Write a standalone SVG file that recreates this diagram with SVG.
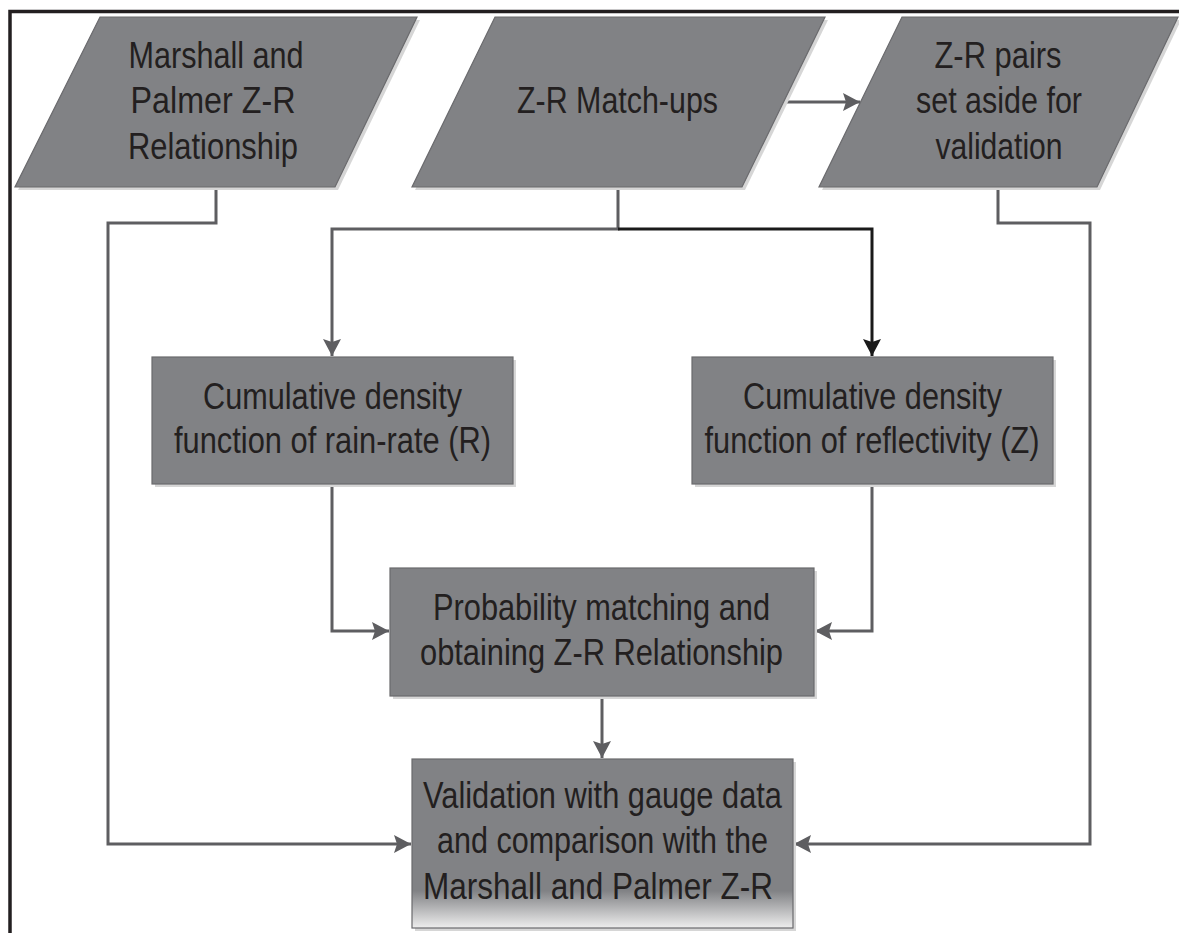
<svg xmlns="http://www.w3.org/2000/svg" width="1179" height="933" viewBox="0 0 1179 933">
<style>
.shape{fill:#818285;stroke:#6a6a6d;stroke-width:1.2}
.shadow{fill:#d6d6d6}
.t{font-family:"Liberation Sans",Arial,sans-serif;font-size:37px;fill:#231f20;text-anchor:middle}
.c{fill:none;stroke:#5e5e61;stroke-width:3}
.cb{fill:none;stroke:#1a1a1a;stroke-width:3}
</style>
<defs>
<marker id="ag" markerUnits="userSpaceOnUse" markerWidth="18" markerHeight="18" refX="17" refY="9" orient="auto">
<path d="M0,0 L17,9 L0,18 L3,9 z" fill="#5e5e61"/>
</marker>
<marker id="ab" markerUnits="userSpaceOnUse" markerWidth="18" markerHeight="18" refX="17" refY="9" orient="auto">
<path d="M0,0 L17,9 L0,18 L3,9 z" fill="#1a1a1a"/>
</marker>
<linearGradient id="vg" x1="0" y1="0" x2="0" y2="1">
<stop offset="0" stop-color="#818285"/>
<stop offset="0.78" stop-color="#818285"/>
<stop offset="1" stop-color="#eeeeee"/>
</linearGradient>
</defs>
<rect width="1179" height="933" fill="#ffffff"/>
<path d="M10,933 V11.5 H1179" fill="none" stroke="#231f20" stroke-width="3.5"/>

<g id="connectors">
<path class="c" d="M216,187 V223 H108 V844 H411" marker-end="url(#ag)"/>
<path class="c" d="M998,187 V223 H1090 V844 H794" marker-end="url(#ag)"/>
<path class="c" d="M618,187 V229 H332 V356" marker-end="url(#ag)"/>
<path class="cb" d="M618,229 H872 V356" marker-end="url(#ab)"/>
<path class="c" d="M782,102 H860" marker-end="url(#ag)"/>
<path class="c" d="M332,484 V631 H389" marker-end="url(#ag)"/>
<path class="c" d="M872,484 V631 H815" marker-end="url(#ag)"/>
<path class="c" d="M602,696 V758" marker-end="url(#ag)"/>
</g>

<g id="node-marshall">
<polygon class="shadow" points="103,20 420,20 338,190 18,190"/>
<polygon class="shape" points="100,17 417,17 335,187 15,187"/>
<text class="t" x="216" y="68" textLength="175" lengthAdjust="spacingAndGlyphs">Marshall and</text>
<text class="t" x="213" y="113" textLength="165" lengthAdjust="spacingAndGlyphs">Palmer Z-R</text>
<text class="t" x="213" y="159" textLength="170" lengthAdjust="spacingAndGlyphs">Relationship</text>
</g>

<g id="node-matchups">
<polygon class="shadow" points="498,20 828,20 745,190 415,190"/>
<polygon class="shape" points="495,17 825,17 742,187 412,187"/>
<text class="t" x="617.5" y="113" textLength="201" lengthAdjust="spacingAndGlyphs">Z-R Match-ups</text>
</g>

<g id="node-pairs">
<polygon class="shadow" points="905,20 1181,20 1100,190 822,190"/>
<polygon class="shape" points="902,17 1178,17 1097,187 819,187"/>
<text class="t" x="998" y="68" textLength="127" lengthAdjust="spacingAndGlyphs">Z-R pairs</text>
<text class="t" x="999" y="113" textLength="166" lengthAdjust="spacingAndGlyphs">set aside for</text>
<text class="t" x="999" y="159" textLength="127" lengthAdjust="spacingAndGlyphs">validation</text>
</g>

<g id="node-cdf-r">
<rect class="shadow" x="155" y="360" width="361" height="127"/>
<rect class="shape" x="152" y="357" width="361" height="127"/>
<text class="t" x="332.5" y="409" textLength="259" lengthAdjust="spacingAndGlyphs">Cumulative density</text>
<text class="t" x="332.5" y="453" textLength="317" lengthAdjust="spacingAndGlyphs">function of rain-rate (R)</text>
</g>

<g id="node-cdf-z">
<rect class="shadow" x="695" y="360" width="361" height="127"/>
<rect class="shape" x="692" y="357" width="361" height="127"/>
<text class="t" x="872.5" y="409" textLength="259" lengthAdjust="spacingAndGlyphs">Cumulative density</text>
<text class="t" x="872" y="453" textLength="335" lengthAdjust="spacingAndGlyphs">function of reflectivity (Z)</text>
</g>

<g id="node-probability">
<rect class="shadow" x="393" y="571" width="424" height="128"/>
<rect class="shape" x="390" y="568" width="424" height="128"/>
<text class="t" x="601.5" y="620" textLength="337" lengthAdjust="spacingAndGlyphs">Probability matching and</text>
<text class="t" x="601.5" y="665" textLength="363" lengthAdjust="spacingAndGlyphs">obtaining Z-R Relationship</text>
</g>

<g id="node-validation">
<rect class="shadow" x="415" y="762" width="381" height="169"/>
<rect x="412" y="759" width="381" height="169" fill="url(#vg)" stroke="#6a6a6d" stroke-width="1.2"/>
<text class="t" x="602.5" y="808" textLength="359" lengthAdjust="spacingAndGlyphs">Validation with gauge data</text>
<text class="t" x="602.5" y="853" textLength="331" lengthAdjust="spacingAndGlyphs">and comparison with the</text>
<text class="t" x="598" y="899" textLength="350" lengthAdjust="spacingAndGlyphs">Marshall and Palmer Z-R</text>
</g>
</svg>
